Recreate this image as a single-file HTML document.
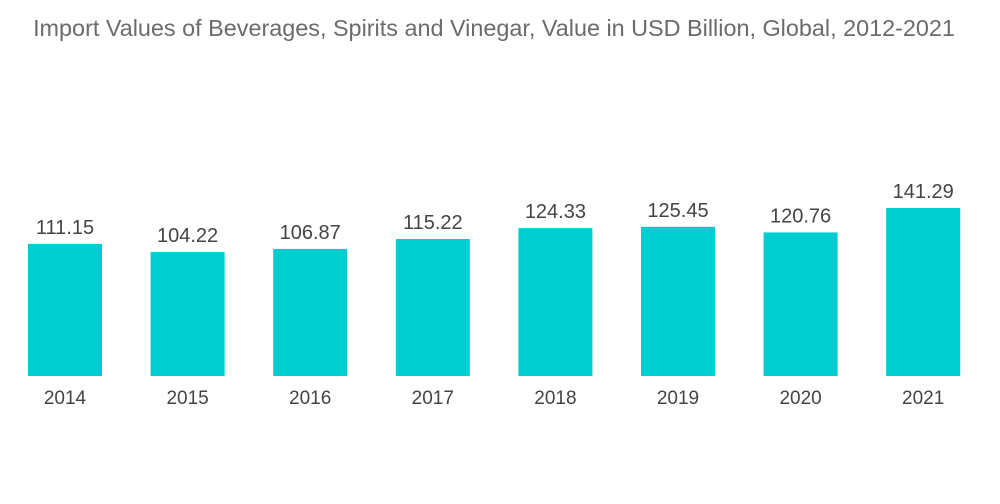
<!DOCTYPE html>
<html><head><meta charset="utf-8"><style>
body{margin:0;background:#fff;width:1000px;height:504px;overflow:hidden;font-family:"Liberation Sans",sans-serif}
#title{position:absolute;left:0;top:15px;width:988px;text-align:center;font-size:23.4px;color:#6b6b6b}
</style></head><body>
<div id="title">Import Values of Beverages, Spirits and Vinegar, Value in USD Billion, Global, 2012-2021</div>
<svg id="chart" width="1000" height="504" style="position:absolute;left:0;top:0"></svg>
<script>
const categories=["2014","2015","2016","2017","2018","2019","2020","2021"];
const values=[111.15,104.22,106.87,115.22,124.33,125.45,120.76,141.29];
const labels=["111.15","104.22","106.87","115.22","124.33","125.45","120.76","141.29"];
const svg=document.getElementById('chart');
const NS="http://www.w3.org/2000/svg";
const baseY=376, pxPerUnit=168/141.29, x0=28, pitch=122.6, bw=74;
const xPos=i=>x0+i*pitch;
const yPos=v=>baseY-v*pxPerUnit;
categories.forEach((c,i)=>{
  const r=document.createElementNS(NS,'rect');
  r.setAttribute('x',xPos(i));r.setAttribute('y',yPos(values[i]));
  r.setAttribute('width',bw);r.setAttribute('height',baseY-yPos(values[i]));
  r.setAttribute('fill','#00cdd0');
  
  
  svg.appendChild(r);
  const t=document.createElementNS(NS,'text');
  t.setAttribute('x',xPos(i)+bw/2);t.setAttribute('y',yPos(values[i])-10);
  t.setAttribute('text-anchor','middle');t.setAttribute('font-size','20');t.setAttribute('fill','#444');
  t.setAttribute('font-family','Liberation Sans, sans-serif');
  t.textContent=labels[i];
  
  
  svg.appendChild(t);
  const l=document.createElementNS(NS,'text');
  l.setAttribute('x',xPos(i)+bw/2);l.setAttribute('y',404);
  l.setAttribute('text-anchor','middle');l.setAttribute('font-size','19');l.setAttribute('fill','#444');
  l.setAttribute('font-family','Liberation Sans, sans-serif');
  l.textContent=c;
  
  
  svg.appendChild(l);
});
</script>
</body></html>
